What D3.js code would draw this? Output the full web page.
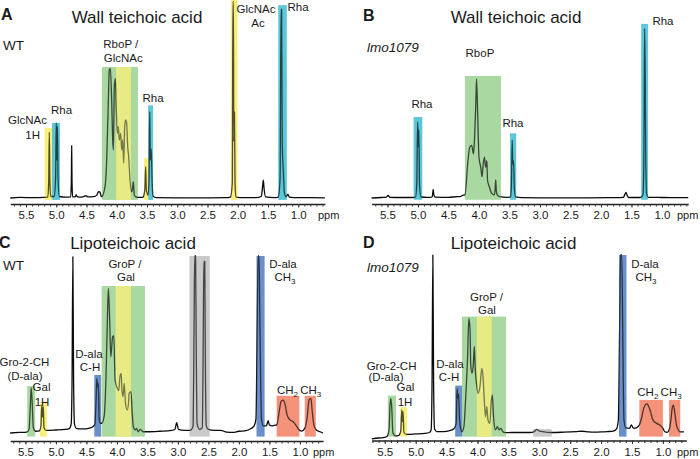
<!DOCTYPE html>
<html><head><meta charset="utf-8">
<script src="https://cdn.jsdelivr.net/npm/d3@7"></script>
<style>body{margin:0;background:#fff}svg{display:block}text{font-family:"Liberation Sans",Arial,sans-serif;fill:#1a1a1a}</style>
</head><body><svg id="c" width="700" height="459"></svg>
<script>
// ---------- DATA ----------
const majorTicks=[5.5,5.0,4.5,4.0,3.5,3.0,2.5,2.0,1.5,1.0];
const titles=["Wall teichoic acid","Wall teichoic acid","Lipoteichoic acid","Lipoteichoic acid"];
const strains=["WT","lmo1079","WT","lmo1079"];
const letters=["A","B","C","D"];

// spectra: [ppm, relative intensity]
const specA=[[5.76,0],[5.6,0.3],[5.4,0.2],[5.2,0.3],[5.14,0.5],[5.125,8],[5.115,34.9],[5.105,8],[5.09,0.8],[5.03,0.8],[5.01,12],[5.0,39.7],[4.99,20],[4.98,38],[4.97,10],[4.95,0.8],[4.85,0.5],[4.76,0.6],[4.75,10],[4.745,27.7],[4.74,10],[4.73,0.6],[4.69,0.6],[4.67,1.6],[4.65,0.6],[4.58,0.5],[4.53,1],[4.51,1.3],[4.48,0.6],[4.38,0.7],[4.33,1.5],[4.3,3.3],[4.28,3.2],[4.26,1.2],[4.249,0.7],[4.194,6],[4.166,20.1],[4.139,51.9],[4.123,67.7],[4.106,68.6],[4.084,51.9],[4.067,30.7],[4.056,25.4],[4.040,58.9],[4.023,63.3],[4.007,46.6],[3.990,34.2],[3.974,37.7],[3.957,30.7],[3.935,34.2],[3.918,25.4],[3.902,30.7],[3.885,18.4],[3.869,37.7],[3.852,41.3],[3.836,39.5],[3.819,27.1],[3.803,21.9],[3.781,9.5],[3.759,3.3],[3.743,4.2],[3.726,8.6],[3.710,1.6],[3.670,0.4],[3.6,0.3],[3.56,0.6],[3.535,5],[3.522,16.6],[3.51,4],[3.48,1.5],[3.465,12],[3.455,45.7],[3.445,20],[3.43,26],[3.415,8],[3.40,1],[3.35,0.2],[3.0,0.1],[2.6,0.1],[2.2,0.2],[2.12,0.5],[2.09,8],[2.08,104],[2.072,104],[2.065,30],[2.055,45.5],[2.045,8],[2.03,0.5],[1.9,0.2],[1.7,0.2],[1.61,0.8],[1.59,6],[1.577,9.5],[1.565,5],[1.54,0.6],[1.4,0.2],[1.33,0.5],[1.3,10],[1.285,99.8],[1.275,99.8],[1.265,30],[1.245,13],[1.23,3],[1.2,0.6],[1.17,2],[1.15,0.5],[1.0,0.2],[0.8,0.2],[0.56,0.1]];
const specB=[[5.76,0],[5.6,0.3],[5.52,0.5],[5.49,1.5],[5.46,0.4],[5.3,0.3],[5.1,0.3],[5.04,0.5],[5.02,8],[5.005,44.7],[4.995,30],[4.985,40],[4.975,8],[4.95,0.6],[4.85,0.4],[4.77,0.5],[4.76,2],[4.75,5.1],[4.74,2],[4.72,0.5],[4.5,0.4],[4.35,0.8],[4.31,0.8],[4.27,1.5],[4.23,1.8],[4.18,22],[4.15,30],[4.12,31],[4.09,26],[4.08,30],[4.05,58],[4.04,70],[4.02,48],[4.0,24],[3.97,18],[3.95,12.5],[3.93,20],[3.91,24],[3.89,18],[3.87,22],[3.86,10.6],[3.83,6.6],[3.79,2.7],[3.75,1.8],[3.735,5],[3.725,10.6],[3.715,4],[3.70,1.8],[3.66,0.8],[3.55,0.4],[3.48,0.6],[3.468,8],[3.455,34],[3.445,20],[3.432,22],[3.42,6],[3.40,0.6],[3.3,0.2],[2.8,0.1],[2.2,0.1],[1.8,0.2],[1.63,0.4],[1.61,2],[1.59,3.3],[1.57,1.5],[1.55,0.3],[1.35,0.3],[1.31,2],[1.295,30],[1.285,99.8],[1.275,75],[1.265,20],[1.25,2],[1.22,0.4],[1.0,0.3],[0.57,0.2]];
const specC=[[5.75,0],[5.6,0.3],[5.48,0.5],[5.44,2],[5.42,15],[5.405,25.6],[5.39,18],[5.37,3],[5.33,1],[5.27,1.2],[5.245,4],[5.232,15.8],[5.22,9],[5.208,15],[5.195,3],[5.16,1.5],[5.0,1.7],[4.85,2],[4.78,2.5],[4.75,5],[4.735,30],[4.722,99.6],[4.71,30],[4.695,5],[4.66,2.5],[4.55,2.3],[4.45,2.8],[4.4,3.4],[4.36,5],[4.34,20],[4.328,30.9],[4.318,26],[4.305,28],[4.29,8],[4.27,5.5],[4.25,5.5],[4.21,9.2],[4.18,30],[4.16,58],[4.14,81.7],[4.12,65.7],[4.10,43],[4.07,54.4],[4.05,54.8],[4.03,30],[4.0,26],[3.97,24],[3.95,31.8],[3.93,33.7],[3.92,26],[3.90,20.5],[3.88,28],[3.86,16.8],[3.83,13],[3.81,16.8],[3.80,22.4],[3.77,23.3],[3.75,12],[3.73,3.6],[3.70,1.7],[3.68,2.6],[3.65,0.7],[3.62,2.1],[3.57,0.7],[3.51,0.7],[3.3,1],[3.1,1.5],[3.05,2],[3.02,5.8],[2.99,2],[2.9,1.5],[2.8,1.5],[2.75,4],[2.735,60],[2.725,100],[2.71,100],[2.70,50],[2.685,5],[2.64,2],[2.6,3],[2.585,50],[2.575,97],[2.56,97],[2.55,40],[2.535,4],[2.5,2],[2.4,1.5],[2.3,1.5],[2.2,0.5],[2.1,0.3],[2.0,1],[1.9,1.2],[1.8,2.5],[1.75,4],[1.72,8],[1.70,60],[1.685,100],[1.67,100],[1.655,60],[1.63,8],[1.6,4],[1.55,4],[1.52,7],[1.5,4.5],[1.45,4],[1.41,4.5],[1.38,4.5],[1.34,12],[1.31,17.7],[1.28,18.6],[1.24,15.8],[1.21,10.2],[1.16,7.3],[1.11,6.4],[1.05,3.6],[1.01,1.7],[0.97,1.1],[0.92,2.6],[0.88,9.2],[0.85,18.6],[0.82,19.6],[0.80,13],[0.77,4.5],[0.73,1.7],[0.67,0.7],[0.62,0]];
const specD=[[5.71,-0.5],[5.6,0],[5.5,0.3],[5.46,1],[5.43,5],[5.415,18],[5.40,21.7],[5.385,15],[5.37,3],[5.33,1.2],[5.27,1.5],[5.24,4],[5.225,15.3],[5.215,9],[5.205,14.5],[5.19,3],[5.15,2],[5.0,2.2],[4.85,2.5],[4.78,3],[4.75,4.4],[4.735,30],[4.722,100],[4.71,30],[4.695,5],[4.66,3.5],[4.55,3.5],[4.45,4],[4.38,5],[4.345,8],[4.33,27],[4.318,22],[4.305,24],[4.29,10],[4.27,5],[4.25,3.4],[4.22,6.2],[4.19,22.6],[4.16,44.4],[4.14,65.4],[4.12,59],[4.11,40.8],[4.09,35.4],[4.07,39],[4.05,50],[4.04,40.8],[4.01,28],[3.99,24.4],[3.96,28],[3.93,38],[3.91,33.5],[3.89,20.8],[3.87,11.6],[3.85,17.1],[3.83,9.8],[3.80,8],[3.78,19],[3.76,23.5],[3.74,11.6],[3.71,4.4],[3.68,6.2],[3.65,4.4],[3.62,5.3],[3.59,3.4],[3.55,2.9],[3.45,3],[3.3,3],[3.15,3],[3.08,3.5],[3.04,4.7],[3.0,3.8],[2.95,3.5],[2.8,3],[2.6,3.2],[2.4,3.5],[2.3,3.7],[2.2,3.3],[2.1,3.2],[2.0,3.3],[1.9,3.5],[1.8,3.8],[1.75,5],[1.72,10],[1.70,60],[1.685,100],[1.665,100],[1.65,60],[1.63,10],[1.6,5.5],[1.54,5.3],[1.51,7.1],[1.48,5.5],[1.45,5.3],[1.41,6],[1.38,7.1],[1.34,11.6],[1.31,16.2],[1.26,18.6],[1.24,18],[1.20,14.4],[1.16,9.8],[1.10,8],[1.05,7.1],[1.00,5.3],[0.97,3.4],[0.93,3.1],[0.90,4.4],[0.87,9.8],[0.85,16.2],[0.83,18],[0.81,14.4],[0.78,7.1],[0.75,4.4],[0.72,3.4],[0.66,3.4]];

// highlighted assignment regions: ppm range and height (intensity units)
const bandsA=[{hi:5.19,lo:5.07,top:37,kind:"GlcNAc"},{hi:5.07,lo:4.94,top:39.7,kind:"Rha"},{hi:4.245,lo:3.65,top:69.3,kind:"RboP"},{hi:4.01,lo:3.765,top:69.3,kind:"GlcNAc"},{hi:3.55,lo:3.48,top:21,kind:"GlcNAc"},{hi:3.48,lo:3.40,top:49,kind:"Rha"},{hi:2.11,lo:2.006,top:105,kind:"GlcNAc"},{hi:1.33,lo:1.19,top:102,kind:"Rha"}];
const bandsB=[{hi:5.07,lo:4.93,top:47.6,kind:"Rha"},{hi:4.23,lo:3.64,top:71.8,kind:"RboP"},{hi:3.49,lo:3.39,top:38,kind:"Rha"},{hi:1.34,lo:1.23,top:102.4,kind:"Rha"}];
const bandsC=[{hi:5.47,lo:5.34,top:26.5,kind:"GroP"},{hi:5.26,lo:5.15,top:17.7,kind:"Gal"},{hi:4.37,lo:4.26,top:32.8,kind:"Dala"},{hi:4.25,lo:3.54,top:83,kind:"GroP"},{hi:4.02,lo:3.77,top:83,kind:"Gal"},{hi:2.81,lo:2.48,top:100,kind:"other"},{hi:1.71,lo:1.58,top:100,kind:"Dala"},{hi:1.38,lo:1.01,top:21,kind:"lipid"},{hi:0.92,lo:0.74,top:21,kind:"lipid"}];
const bandsD=[{hi:5.45,lo:5.32,top:23.1,kind:"GroP"},{hi:5.25,lo:5.14,top:16.8,kind:"Gal"},{hi:4.36,lo:4.25,top:28.6,kind:"Dala"},{hi:4.25,lo:3.54,top:66.3,kind:"GroP"},{hi:4.01,lo:3.77,top:66.3,kind:"Gal"},{hi:3.10,lo:2.80,top:4.9,kind:"other"},{hi:1.71,lo:1.59,top:100,kind:"Dala"},{hi:1.38,lo:1.00,top:20.8,kind:"lipid"},{hi:0.90,lo:0.72,top:20.8,kind:"lipid"}];

// annotations (ppm, intensity); "_" marks a subscript
const notesA=[{t:"GlcNAc",ppm:5.475,I:38.9},{t:"1H",ppm:5.39,I:31},{t:"Rha",ppm:4.913,I:44.7},{t:"RboP /",ppm:3.933,I:79.6},{t:"GlcNAc",ppm:3.892,I:72},{t:"Rha",ppm:3.40,I:50.8},{t:"GlcNAc",ppm:1.698,I:98.1},{t:"Ac",ppm:1.665,I:90.5},{t:"Rha",ppm:1.004,I:98.7}];
const notesB=[{t:"RboP",ppm:3.984,I:83.2},{t:"Rha",ppm:4.934,I:53.2},{t:"Rha",ppm:3.443,I:41.5},{t:"Rha",ppm:0.984,I:102}];
const notesC=[{t:"Gro-2-CH",ppm:5.515,I:37.9},{t:"(D-ala)",ppm:5.507,I:29.7},{t:"Gal",ppm:5.236,I:23.7},{t:"1H",ppm:5.228,I:15.5},{t:"D-ala",ppm:4.458,I:42.4},{t:"C-H",ppm:4.441,I:35},{t:"GroP /",ppm:3.868,I:93.2},{t:"Gal",ppm:3.851,I:85.9},{t:"D-ala",ppm:1.277,I:93.2},{t:"CH_3",ppm:1.245,I:85.9},{t:"CH_2",ppm:1.204,I:21.8},{t:"CH_3",ppm:0.822,I:21.8}];
const notesD=[{t:"Gro-2-CH",ppm:5.39,I:37.4},{t:"(D-ala)",ppm:5.48,I:31.1},{t:"Gal",ppm:5.165,I:25.7},{t:"1H",ppm:5.173,I:17.5},{t:"D-ala",ppm:4.445,I:38.3},{t:"C-H",ppm:4.461,I:31.1},{t:"GroP /",ppm:3.854,I:75.1},{t:"Gal",ppm:3.846,I:67.8},{t:"D-ala",ppm:1.29,I:92.9},{t:"CH_3",ppm:1.273,I:85.8},{t:"CH_2",ppm:1.244,I:23},{t:"CH_3",ppm:0.866,I:23}];

// ---------- LAYOUT / STYLE ----------
const bandColor={GlcNAc:"#f9f07c",Gal:"#f9f07c",Rha:"#5cc8d8",RboP:"#a9d8a1",GroP:"#a9d8a1",Dala:"#6b90ca",lipid:"#f4937a",other:"#c9c9c9"};
const panels=[
 {spec:specA,bands:bandsA,notes:notesA,ppmMax:5.76,ppmMin:0.56,x0:10.27,ppx:60.5,base:198,top100:9,bb:-1,axisY:204,ppmX:318,letter:[1,20],title:[137,23],strain:[3,50]},
 {spec:specB,bands:bandsB,notes:notesB,ppmMax:5.76,ppmMin:0.57,x0:371.6,ppx:61,base:198,top100:28,bb:-1,axisY:204,ppmX:677,letter:[363,21],title:[516,23],strain:[367,51.5]},
 {spec:specC,bands:bandsC,notes:notesC,ppmMax:5.75,ppmMin:0.62,x0:10.15,ppx:61,base:433,top100:256,bb:-2,axisY:441,ppmX:313,letter:[-1,248],title:[133,249],strain:[3,269.5]},
 {spec:specD,bands:bandsD,notes:notesD,ppmMax:5.71,ppmMin:0.62,x0:371.8,ppx:61.8,base:438,top100:255,bb:0.8,axisY:440.5,ppmX:677,letter:[363,248],title:[513.5,249],strain:[367,271.5]}
];

const svg=d3.select("#c");
panels.forEach((p,i)=>{
  const g=svg.append("g");
  const x=d3.scaleLinear().domain([p.ppmMax,p.ppmMin]).range([p.x0,p.x0+(p.ppmMax-p.ppmMin)*p.ppx]);
  const y=d3.scaleLinear().domain([0,100]).range([p.base,p.top100]);
  const rect=s=>s.attr("x",d=>x(d.hi)).attr("width",d=>x(d.lo)-x(d.hi))
     .attr("y",d=>y(d.top)).attr("height",d=>y(p.bb)-y(d.top)).attr("fill",d=>bandColor[d.kind]);
  g.append("g").selectAll("rect").data(p.bands).join("rect").call(rect);
  const line=d3.line().x(d=>x(d[0])).y(d=>y(d[1])).curve(d3.curveMonotoneX);
  g.append("path").datum(p.spec).attr("d",line).attr("fill","none").attr("stroke","#0a0a0a").attr("stroke-width",1.3).attr("stroke-linejoin","round");
  g.append("g").selectAll("rect").data(p.bands).join("rect").call(rect).attr("fill-opacity",0.3);

  // axis
  const ax=g.append("g").attr("transform",`translate(0,${p.axisY})`)
    .call(d3.axisBottom(x).tickValues(majorTicks).tickFormat(d3.format(".1f")).tickSize(3.5).tickSizeOuter(0).tickPadding(3.5));
  ax.attr("font-family",null).attr("font-size",null);
  ax.select(".domain").attr("stroke","#222").attr("stroke-width",1.3);
  ax.selectAll(".tick line").attr("stroke","#333");
  ax.selectAll("text").style("font-size","11.5px").attr("fill","#222");
  const minor=d3.range(Math.floor(p.ppmMax*10),Math.ceil(p.ppmMin*10)-1,-1).map(v=>v/10);
  const mx=g.append("g").attr("transform",`translate(0,${p.axisY})`)
    .call(d3.axisBottom(x).tickValues(minor).tickSize(2.5).tickFormat(""));
  mx.select(".domain").remove();
  mx.selectAll(".tick line").attr("stroke","#333");
  g.append("text").attr("x",p.ppmX).attr("y",p.axisY+15.2).style("font-size","11px").text("ppm");

  // annotations
  p.notes.forEach(n=>{
    const t=g.append("text").attr("x",x(n.ppm)).attr("y",y(n.I)).attr("text-anchor","middle").style("font-size","11.5px");
    const parts=n.t.split("_");
    t.append("tspan").text(parts[0]);
    if(parts[1]) t.append("tspan").attr("dy",3).style("font-size","8px").text(parts[1]);
  });

  // headers
  g.append("text").attr("x",p.letter[0]).attr("y",p.letter[1]).style("font-size","16px").style("font-weight","bold").text(letters[i]);
  g.append("text").attr("x",p.title[0]).attr("y",p.title[1]).attr("text-anchor","middle").style("font-size","17px").text(titles[i]);
  g.append("text").attr("x",p.strain[0]).attr("y",p.strain[1]).style("font-size","13.5px")
    .style("font-style",strains[i]==="WT"?"normal":"italic").text(strains[i]);
});
</script></body></html>
